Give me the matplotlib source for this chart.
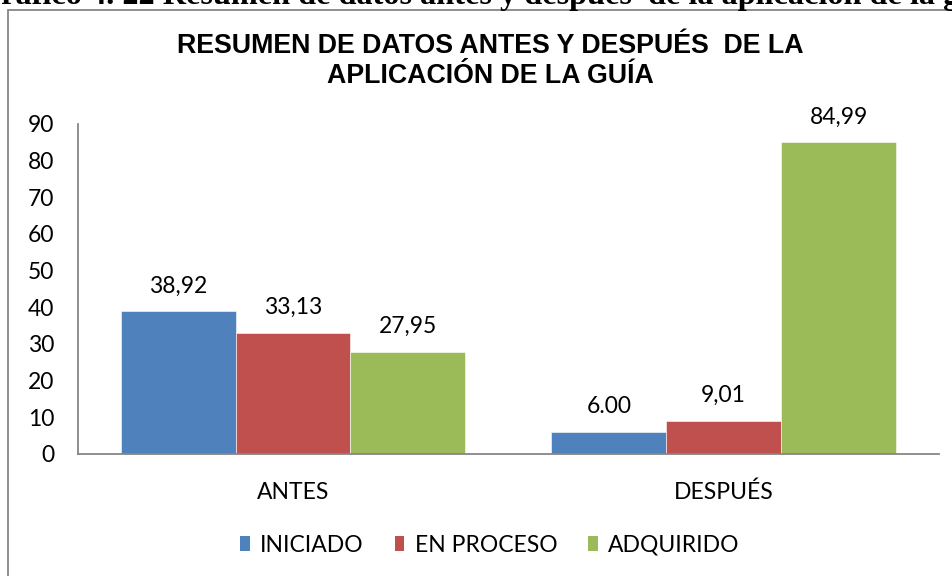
import matplotlib
matplotlib.use("Agg")
import matplotlib.pyplot as plt
import numpy as np
from matplotlib.patches import Patch, Rectangle
from matplotlib.textpath import TextPath
from matplotlib.font_manager import FontProperties

# data
groups = ["ANTES", "DESPUÉS"]
series = ["INICIADO", "EN PROCESO", "ADQUIRIDO"]
iniciado = [38.92, 6.00]
en_proceso = [33.13, 9.01]
adquirido = [27.95, 84.99]
# labels exactly as printed on the chart
iniciado_lbl = ["38,92", "6.00"]
en_proceso_lbl = ["33,13", "9,01"]
adquirido_lbl = ["27,95", "84,99"]
y_ticks = [0, 10, 20, 30, 40, 50, 60, 70, 80, 90]

caption = "Gráfico 4. 22 Resumen de datos antes y después  de la aplicación de la guía"

colors = ["#4F81BD", "#C0504D", "#9BBB59"]
axis_gray = "#868686"
lab_font = "Lato"
lab_size = 16.5

W, H = 953, 576
fig = plt.figure(figsize=(W / 100, H / 100), dpi=100)

# cut-off caption from the document page above the chart:
# size it so that "ráfico ... de la" ends just before the right edge
fp = FontProperties(family="Liberation Serif", weight="bold", size=10)
w_G = TextPath((0, 0), "G", prop=fp).get_extents().x1
w_pre = TextPath((0, 0), caption[:caption.index(" guía")], prop=fp).get_extents().x1
cap_size = 10 * (933 * 72 / 100) / (w_pre - w_G)
fig.text(-(w_G * cap_size / 10) * 100 / 72 / W, 1 - 4 / H, caption,
         family="Liberation Serif", weight="bold", fontsize=cap_size,
         ha="left", va="baseline")

# chart frame (runs off the right and bottom edges)
fig.add_artist(Rectangle((8 / W, -0.2), 1.2, 1.2 - 10 / H,
                         transform=fig.transFigure, fill=False,
                         edgecolor=axis_gray, lw=1.3))

ax = fig.add_axes([77.7 / W, (H - 454) / H, (939 - 77.7) / W, (454 - 124) / H])

x = np.arange(len(groups))
width = 0.8 / 3
values = [iniciado, en_proceso, adquirido]
labels = [iniciado_lbl, en_proceso_lbl, adquirido_lbl]
for i, (vals, lbls) in enumerate(zip(values, labels)):
    pos = x + (i - 1) * width
    ax.bar(pos, vals, width, color=colors[i], edgecolor="white", linewidth=0.4,
           label=series[i], zorder=2)
    for px, v, s in zip(pos, vals, lbls):
        ax.annotate(s, (px, v), xytext=(0, 13.5), textcoords="offset points",
                    ha="center", va="baseline", family=lab_font, fontsize=lab_size)

ax.set_xlim(-0.5, len(groups) - 0.5)
ax.set_ylim(0, 90)
ax.set_yticks(y_ticks)
ax.set_xticks(x)
ax.set_xticklabels(groups)
ax.tick_params(axis="both", length=0, labelsize=lab_size)
ax.tick_params(axis="y", pad=17)
ax.tick_params(axis="x", pad=20)
for t in ax.get_xticklabels() + ax.get_yticklabels():
    t.set_family(lab_font)

for side in ["top", "right"]:
    ax.spines[side].set_visible(False)
for side in ["left", "bottom"]:
    ax.spines[side].set_color(axis_gray)
    ax.spines[side].set_linewidth(1.3)

fig.text(490 / W, 1 - 61 / H,
         "RESUMEN DE DATOS ANTES Y DESPUÉS  DE LA\nAPLICACIÓN DE LA GUÍA",
         family="Liberation Sans", weight="bold", fontsize=19.3,
         ha="center", va="center", linespacing=1.2)

handles = [Patch(facecolor=c, label=s) for c, s in zip(colors, series)]
fig.legend(handles=handles, loc="center", bbox_to_anchor=(490 / W, 1 - 545 / H),
           ncol=3, frameon=False, prop={"family": lab_font, "size": lab_size},
           handlelength=0.42, handleheight=0.6, handletextpad=0.45,
           columnspacing=1.35)

fig.savefig("out.png", dpi=100)
